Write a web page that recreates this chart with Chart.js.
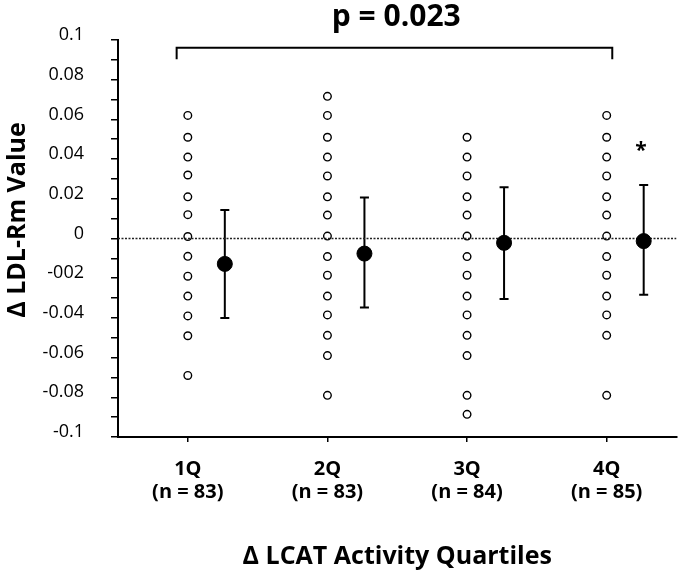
<!DOCTYPE html>
<html>
<head>
<meta charset="utf-8">
<script src="https://cdn.jsdelivr.net/npm/chart.js@4.4.1/dist/chart.umd.min.js"></script>
<style>
  body { margin: 0; background: #fff; }
  #wrap { width: 685px; height: 572px; }
</style>
</head>
<body>
<div id="wrap"><canvas id="chart"></canvas></div>
<script>
// quartile positions on the x axis and their labels
const categories = ['1Q', '2Q', '3Q', '4Q'];
const groupSizes = ['(n = 83)', '(n = 83)', '(n = 84)', '(n = 85)'];
const categoryX = [1, 2, 3, 4];

// individual values (open circles)
const q1Values = [0.062, 0.051, 0.041, 0.032, 0.021, 0.012, 0.001, -0.009, -0.019, -0.029, -0.039, -0.049, -0.069];
const q2Values = [0.0716, 0.062, 0.051, 0.041, 0.0315, 0.021, 0.0118, 0.0012, -0.0091, -0.0185, -0.029, -0.0385, -0.0488, -0.059, -0.079];
const q3Values = [0.051, 0.041, 0.0315, 0.021, 0.0118, 0.0012, -0.0091, -0.0185, -0.029, -0.0385, -0.0488, -0.059, -0.079, -0.0886];
const q4Values = [0.062, 0.051, 0.041, 0.0315, 0.021, 0.0118, 0.0012, -0.0091, -0.0185, -0.029, -0.0385, -0.0488, -0.079];

// group means with error bars (filled circles)
const meanX = [1.265, 2.265, 3.265, 4.265];
const meanValues = [-0.0128, -0.0076, -0.0022, -0.0013];
const errorUpper = [0.0143, 0.0207, 0.0258, 0.0269];
const errorLower = [-0.040, -0.0348, -0.0305, -0.0283];

// y axis ticks (bottom to top), labels as printed
const yTickValues = [-0.1, -0.09, -0.08, -0.07, -0.06, -0.05, -0.04, -0.03, -0.02, -0.01, 0,
                     0.01, 0.02, 0.03, 0.04, 0.05, 0.06, 0.07, 0.08, 0.09, 0.1];
const yTickLabels = ['-0.1', '', '-0.08', '', '-0.06', '', '-0.04', '', '-002', '', '0',
                     '', '0.02', '', '0.04', '', '0.06', '', '0.08', '', '0.1'];

// significance bracket and markers
const bracketX = [0.92, 0.92, 4.04, 4.04];
const bracketY = [0.0903, 0.0961, 0.0961, 0.0903];
const pText = 'p = 0.023';
const starX = 4.245;
const starY = 0.046;
const yTitle = 'Δ LDL-Rm Value';

Chart.defaults.font.family = "'Open Sans', sans-serif";
Chart.defaults.color = '#000';

function points(x, values) {
    return values.map(v => ({x: x, y: v}));
}

const open = {
    pointRadius: 3.8,
    pointBorderWidth: 1.4,
    pointBorderColor: '#000',
    pointBackgroundColor: '#fff',
    showLine: false,
    order: 2
};

const extras = {
    id: 'extras',
    beforeDatasetsDraw(chart) {
        const ctx = chart.ctx;
        const x = chart.scales.x, y = chart.scales.y;
        ctx.save();
        ctx.strokeStyle = '#000';
        ctx.lineWidth = 2;
        for (let i = 0; i < meanX.length; i++) {
            const px = x.getPixelForValue(meanX[i]);
            const top = y.getPixelForValue(errorUpper[i]);
            const bot = y.getPixelForValue(errorLower[i]);
            ctx.beginPath();
            ctx.moveTo(px, top); ctx.lineTo(px, bot);
            ctx.moveTo(px - 4.5, top); ctx.lineTo(px + 4.5, top);
            ctx.moveTo(px - 4.5, bot); ctx.lineTo(px + 4.5, bot);
            ctx.stroke();
        }
        ctx.restore();
    },
    afterDraw(chart) {
        const ctx = chart.ctx;
        const x = chart.scales.x, y = chart.scales.y;
        ctx.save();
        ctx.fillStyle = '#000';
        ctx.textAlign = 'center';
        ctx.textBaseline = 'middle';
        ctx.font = "bold 30px 'Open Sans'";
        ctx.fillText(pText, (chart.chartArea.left + chart.chartArea.right) / 2 - 1, 17);
        ctx.font = "bold 21px 'Open Sans'";
        ctx.fillText('*', x.getPixelForValue(starX), y.getPixelForValue(starY) + 4);
        // y axis title, sits a bit above the middle of the axis
        ctx.translate(18, 220);
        ctx.rotate(-Math.PI / 2);
        ctx.font = "bold 25px 'Open Sans'";
        ctx.fillText(yTitle, 0, 0);
        ctx.restore();
    }
};

new Chart(document.getElementById('chart'), {
    type: 'scatter',
    data: {
        datasets: [
            {
                data: [{x: 0.5, y: 0}, {x: 4.5, y: 0}],
                showLine: true,
                borderColor: '#222',
                borderWidth: 1.5,
                borderDash: [2, 1.5],
                pointRadius: 0,
                order: 0
            },
            {
                data: bracketX.map((v, i) => ({x: v, y: bracketY[i]})),
                showLine: true,
                borderColor: '#000',
                borderWidth: 2,
                pointRadius: 0,
                order: 0
            },
            Object.assign({data: points(categoryX[0], q1Values)}, open),
            Object.assign({data: points(categoryX[1], q2Values)}, open),
            Object.assign({data: points(categoryX[2], q3Values)}, open),
            Object.assign({data: points(categoryX[3], q4Values)}, open),
            {
                data: meanX.map((v, i) => ({x: v, y: meanValues[i]})),
                pointRadius: 7.5,
                pointBackgroundColor: '#000',
                pointBorderColor: '#000',
                showLine: false,
                order: -1
            }
        ]
    },
    options: {
        responsive: true,
        maintainAspectRatio: false,
        animation: false,
        layout: { padding: { top: 40, right: 3, left: 0, bottom: 0 } },
        plugins: { legend: { display: false }, tooltip: { enabled: false } },
        scales: {
            x: {
                type: 'linear',
                min: 0.5,
                max: 4.5,
                afterBuildTicks: scale => { scale.ticks = categoryX.map(v => ({value: v})); },
                afterFit: scale => { scale.height = 135; },
                grid: { display: true, drawOnChartArea: false, drawTicks: true, tickLength: 5, color: '#000', lineWidth: 1.5 },
                border: { display: true, color: '#000', width: 2 },
                ticks: {
                    autoSkip: false,
                    maxRotation: 0,
                    padding: 16,
                    font: { size: 20, weight: 'bold', lineHeight: 1.15 },
                    callback: (value, index) => [categories[index], groupSizes[index]]
                },
                title: {
                    display: true,
                    text: 'Δ LCAT Activity Quartiles',
                    font: { size: 25, weight: 'bold' },
                    padding: { top: 0, bottom: 0 }
                }
            },
            y: {
                min: -0.1,
                max: 0.1,
                afterBuildTicks: scale => { scale.ticks = yTickValues.map(v => ({value: v})); },
                afterFit: scale => { scale.width = 118; },
                grid: { display: true, drawOnChartArea: false, drawTicks: true, tickLength: 7, color: '#000', lineWidth: 1.5 },
                border: { display: true, color: '#000', width: 2 },
                ticks: {
                    autoSkip: false,
                    padding: 27,
                    labelOffset: -5,
                    font: { size: 18 },
                    callback: (value, index) => yTickLabels[index]
                }
            }
        }
    },
    plugins: [extras]
});
</script>
</body>
</html>
